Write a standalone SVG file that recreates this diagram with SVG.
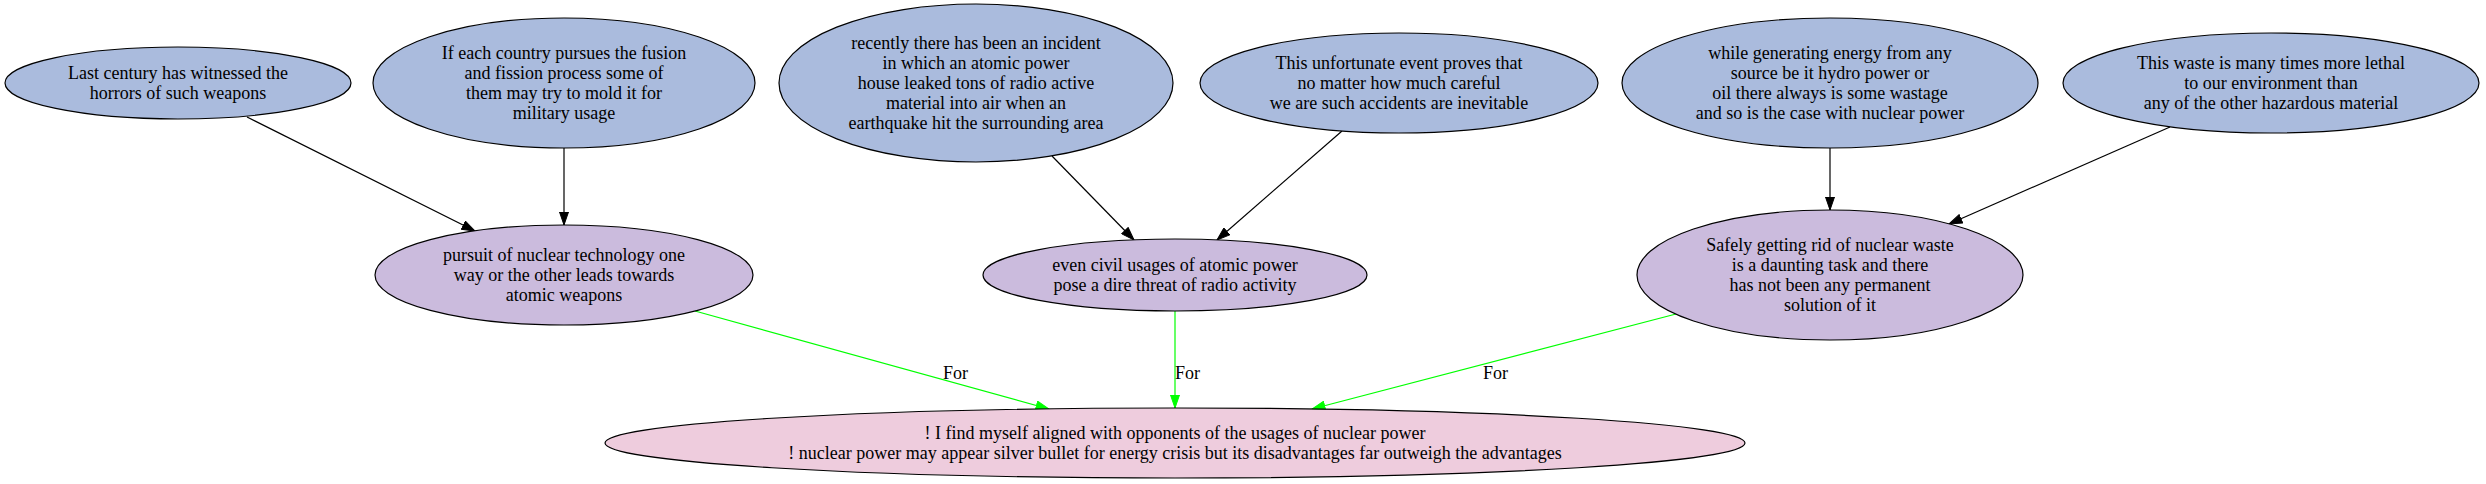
<svg xmlns="http://www.w3.org/2000/svg" width="2486" height="484" viewBox="0 0 2486 484">
<style>
.n ellipse{stroke:#000;stroke-width:1.2}
.top ellipse{fill:#aabbdd}
.mid ellipse{fill:#cbbbdd}
.bot ellipse{fill:#eeccdd}
text{font-family:"Liberation Serif","Times New Roman",serif;font-size:18px;fill:#000;text-anchor:middle}
.e{fill:none;stroke-width:1.2}
.k{stroke:#000;marker-end:url(#ak)}
.g{stroke:#00ff00;marker-end:url(#ag)}
.lbl{text-anchor:start}
</style>
<defs>
<marker id="ak" viewBox="0 0 14 10" refX="13.5" refY="5" markerWidth="14" markerHeight="10" orient="auto" markerUnits="userSpaceOnUse"><path d="M0.5,0.5 L13.5,5 L0.5,9.5 z" fill="#000" stroke="#000"/></marker>
<marker id="ag" viewBox="0 0 14 10" refX="13.5" refY="5" markerWidth="14" markerHeight="10" orient="auto" markerUnits="userSpaceOnUse"><path d="M0.5,0.5 L13.5,5 L0.5,9.5 z" fill="#00ff00" stroke="#00ff00"/></marker>
</defs>
<rect width="2486" height="484" fill="#fff"/>
<g id="edges">
<path class="e k" d="M247,117 L475,231"/>
<path class="e k" d="M564,148 L564,225"/>
<path class="e k" d="M1052,156 L1134,240"/>
<path class="e k" d="M1342,131 L1217,240"/>
<path class="e k" d="M1830,148 L1830,210"/>
<path class="e k" d="M2170,127 L1949,224"/>
<path class="e g" d="M695,311 L1049,409"/>
<path class="e g" d="M1175,311 L1175,408"/>
<path class="e g" d="M1676,314 L1312,409"/>
<text class="lbl" x="943" y="379">For</text>
<text class="lbl" x="1175" y="379">For</text>
<text class="lbl" x="1483" y="379">For</text>
</g>
<g id="nA" class="n top"><ellipse cx="178" cy="83" rx="173" ry="36"/>
<text x="178" y="79.3">Last century has witnessed the</text><text x="178" y="99.3">horrors of such weapons</text></g>
<g id="nB" class="n top"><ellipse cx="564" cy="83" rx="191" ry="65"/>
<text x="564" y="59.3">If each country pursues the fusion</text><text x="564" y="79.3">and fission process some of</text><text x="564" y="99.3">them may try to mold it for</text><text x="564" y="119.3">military usage</text></g>
<g id="nC" class="n top"><ellipse cx="976" cy="83" rx="197" ry="79"/>
<text x="976" y="49.3">recently there has been an incident</text><text x="976" y="69.3">in which an atomic power</text><text x="976" y="89.3">house leaked tons of radio active</text><text x="976" y="109.3">material into air when an</text><text x="976" y="129.3">earthquake hit the surrounding area</text></g>
<g id="nD" class="n top"><ellipse cx="1399" cy="83" rx="199" ry="50"/>
<text x="1399" y="69.3">This unfortunate event proves that</text><text x="1399" y="89.3">no matter how much careful</text><text x="1399" y="109.3">we are such accidents are inevitable</text></g>
<g id="nE" class="n top"><ellipse cx="1830" cy="83" rx="208" ry="65"/>
<text x="1830" y="59.3">while generating energy from any</text><text x="1830" y="79.3">source be it hydro power or</text><text x="1830" y="99.3">oil there always is some wastage</text><text x="1830" y="119.3">and so is the case with nuclear power</text></g>
<g id="nF" class="n top"><ellipse cx="2271" cy="83" rx="208" ry="50"/>
<text x="2271" y="69.3">This waste is many times more lethal</text><text x="2271" y="89.3">to our environment than</text><text x="2271" y="109.3">any of the other hazardous material</text></g>
<g id="nG" class="n mid"><ellipse cx="564" cy="275" rx="189" ry="50"/>
<text x="564" y="261.3">pursuit of nuclear technology one</text><text x="564" y="281.3">way or the other leads towards</text><text x="564" y="301.3">atomic weapons</text></g>
<g id="nH" class="n mid"><ellipse cx="1175" cy="275" rx="192" ry="36"/>
<text x="1175" y="271.3">even civil usages of atomic power</text><text x="1175" y="291.3">pose a dire threat of radio activity</text></g>
<g id="nI" class="n mid"><ellipse cx="1830" cy="275" rx="193" ry="65"/>
<text x="1830" y="251.3">Safely getting rid of nuclear waste</text><text x="1830" y="271.3">is a daunting task and there</text><text x="1830" y="291.3">has not been any permanent</text><text x="1830" y="311.3">solution of it</text></g>
<g id="nJ" class="n bot"><ellipse cx="1175" cy="443" rx="570" ry="35"/>
<text x="1175" y="439.3">! I find myself aligned with opponents of the usages of nuclear power</text><text x="1175" y="459.3">! nuclear power may appear silver bullet for energy crisis but its disadvantages far outweigh the advantages</text></g>
</svg>
